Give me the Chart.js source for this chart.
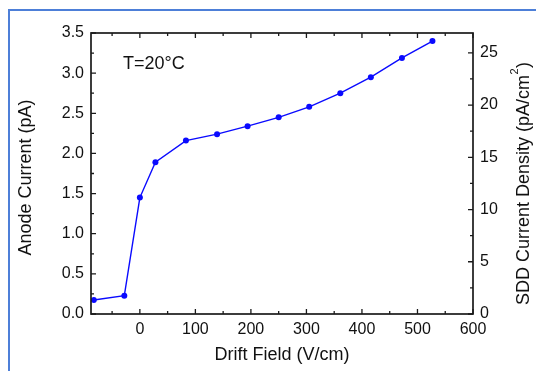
<!DOCTYPE html>
<html><head><meta charset="utf-8">
<script src="https://cdn.jsdelivr.net/npm/chart.js@4.4.1/dist/chart.umd.min.js"></script>
<style>
html,body{margin:0;padding:0;background:#fff;width:536px;height:371px;overflow:hidden;}
#wrap{position:relative;width:536px;height:371px;}
#frame{position:absolute;left:8px;top:9px;right:-10px;bottom:-10px;border-top:2px solid #4d7fd8;border-left:2px solid #4d7fd8;pointer-events:none;}
canvas{position:absolute;left:0;top:0;}
</style></head><body>
<div id="wrap"><canvas id="c" width="536" height="371"></canvas><div id="frame"></div></div>
<script>
// ---- data ----
const driftField = [-83, -28, 0, 28, 83, 139, 194, 250, 305, 361, 416, 472, 527];
const anodeCurrent = [0.175, 0.228, 1.45, 1.89, 2.16, 2.24, 2.34, 2.45, 2.58, 2.75, 2.95, 3.19, 3.40];
const xTickValues = [0, 100, 200, 300, 400, 500, 600];
const leftTickValues = [0, 0.5, 1, 1.5, 2, 2.5, 3, 3.5];
const rightTickValues = [0, 5, 10, 15, 20, 25];
const xRange = [-88, 600];
const leftRange = [0, 3.5];
const rightRange = [0, 26.9];
const xTitle = 'Drift Field (V/cm)';
const leftTitle = 'Anode Current (pA)';
const rightTitleMain = 'SDD Current Density (pA/cm';
const rightTitleSup = '2';
const rightTitleEnd = ')';
const annotationText = 'T=20°C';

const FONT = "'Liberation Sans', Arial, sans-serif";
const INK = '#111';

const deco = {
  id: 'deco',
  afterDraw(chart) {
    const ctx = chart.ctx, a = chart.chartArea;
    const sx = chart.scales.x, sy = chart.scales.y, sy2 = chart.scales.y2;
    ctx.save();
    ctx.strokeStyle = '#1a1a1a';
    ctx.lineWidth = 1.3;
    ctx.beginPath();
    for (let v = Math.ceil(sx.min / 50) * 50; v <= sx.max + 1e-9; v += 50) {
      const px = sx.getPixelForValue(v);
      const len = (v % 100 === 0) ? 5 : 3;
      ctx.moveTo(px, a.bottom); ctx.lineTo(px, a.bottom - len);
      ctx.moveTo(px, a.top); ctx.lineTo(px, a.top + len);
    }
    for (let i = 0; i * 0.25 <= sy.max + 1e-9; i++) {
      const py = sy.getPixelForValue(i * 0.25);
      const len = (i % 2 === 0) ? 5 : 3;
      ctx.moveTo(a.left, py); ctx.lineTo(a.left + len, py);
    }
    for (let i = 0; i * 2.5 <= sy2.max + 1e-9; i++) {
      const py = sy2.getPixelForValue(i * 2.5);
      const len = (i % 2 === 0) ? 5 : 3;
      ctx.moveTo(a.right, py); ctx.lineTo(a.right - len, py);
    }
    ctx.stroke();
    ctx.lineWidth = 1.7;
    ctx.strokeRect(a.left, a.top, a.right - a.left, a.bottom - a.top);

    ctx.fillStyle = INK;
    ctx.font = '18px ' + FONT;
    ctx.textBaseline = 'alphabetic';
    ctx.textAlign = 'center';
    ctx.save();
    ctx.translate(31, 177.5);
    ctx.rotate(-Math.PI / 2);
    ctx.fillText(leftTitle, 0, 0);
    ctx.restore();

    ctx.textAlign = 'left';
    ctx.font = '18px ' + FONT;
    const w1 = ctx.measureText(rightTitleMain).width;
    ctx.font = '11px ' + FONT;
    const w2 = ctx.measureText(rightTitleSup).width;
    ctx.font = '18px ' + FONT;
    const w3 = ctx.measureText(rightTitleEnd).width;
    const total = w1 + w2 + 1 + w3;
    ctx.save();
    ctx.translate(529, 183.5 + total / 2);
    ctx.rotate(-Math.PI / 2);
    ctx.fillText(rightTitleMain, 0, 0);
    ctx.font = '11px ' + FONT;
    ctx.fillText(rightTitleSup, w1 + 0.5, -11);
    ctx.font = '18px ' + FONT;
    ctx.fillText(rightTitleEnd, w1 + w2 + 1, 0);
    ctx.restore();

    ctx.font = '18px ' + FONT;
    ctx.textAlign = 'left';
    ctx.fillText(annotationText, 123, 69);
    ctx.restore();
  }
};

new Chart(document.getElementById('c'), {
  type: 'line',
  data: {
    datasets: [{
      data: driftField.map((x, i) => ({ x: x, y: anodeCurrent[i] })),
      borderColor: '#0a0aff',
      backgroundColor: '#0a0aff',
      borderWidth: 1.4,
      pointRadius: 3,
      pointHoverRadius: 3,
      pointBorderWidth: 0,
      tension: 0,
      fill: false,
      yAxisID: 'y'
    }]
  },
  options: {
    responsive: false,
    animation: false,
    devicePixelRatio: 1,
    layout: { padding: { top: 33, left: 0, right: 0, bottom: 0 } },
    plugins: { legend: { display: false }, tooltip: { enabled: false } },
    scales: {
      x: {
        type: 'linear', position: 'bottom',
        min: xRange[0], max: xRange[1],
        grid: { display: false, drawTicks: false },
        border: { display: false },
        afterBuildTicks: s => { s.ticks = xTickValues.map(v => ({ value: v })); },
        afterFit: s => { s.height = 57; },
        ticks: { color: INK, font: { family: FONT, size: 16 }, padding: 6, autoSkip: false, maxRotation: 0,
                 callback: v => String(v) },
        title: { display: true, text: xTitle, color: INK, font: { family: FONT, size: 18 }, padding: { top: 0, bottom: 5 } }
      },
      y: {
        type: 'linear', position: 'left',
        min: leftRange[0], max: leftRange[1],
        grid: { display: false, drawTicks: false },
        border: { display: false },
        afterBuildTicks: s => { s.ticks = leftTickValues.map(v => ({ value: v })); },
        afterFit: s => { s.width = 91; },
        ticks: { color: INK, font: { family: FONT, size: 16 }, padding: 7, autoSkip: false,
                 callback: v => Number(v).toFixed(1) }
      },
      y2: {
        type: 'linear', position: 'right',
        min: rightRange[0], max: rightRange[1],
        grid: { display: false, drawTicks: false },
        border: { display: false },
        afterBuildTicks: s => { s.ticks = rightTickValues.map(v => ({ value: v })); },
        afterFit: s => { s.width = 63; },
        ticks: { color: INK, font: { family: FONT, size: 16 }, padding: 7, autoSkip: false,
                 callback: v => String(v) }
      }
    }
  },
  plugins: [deco]
});
</script>
</body></html>
